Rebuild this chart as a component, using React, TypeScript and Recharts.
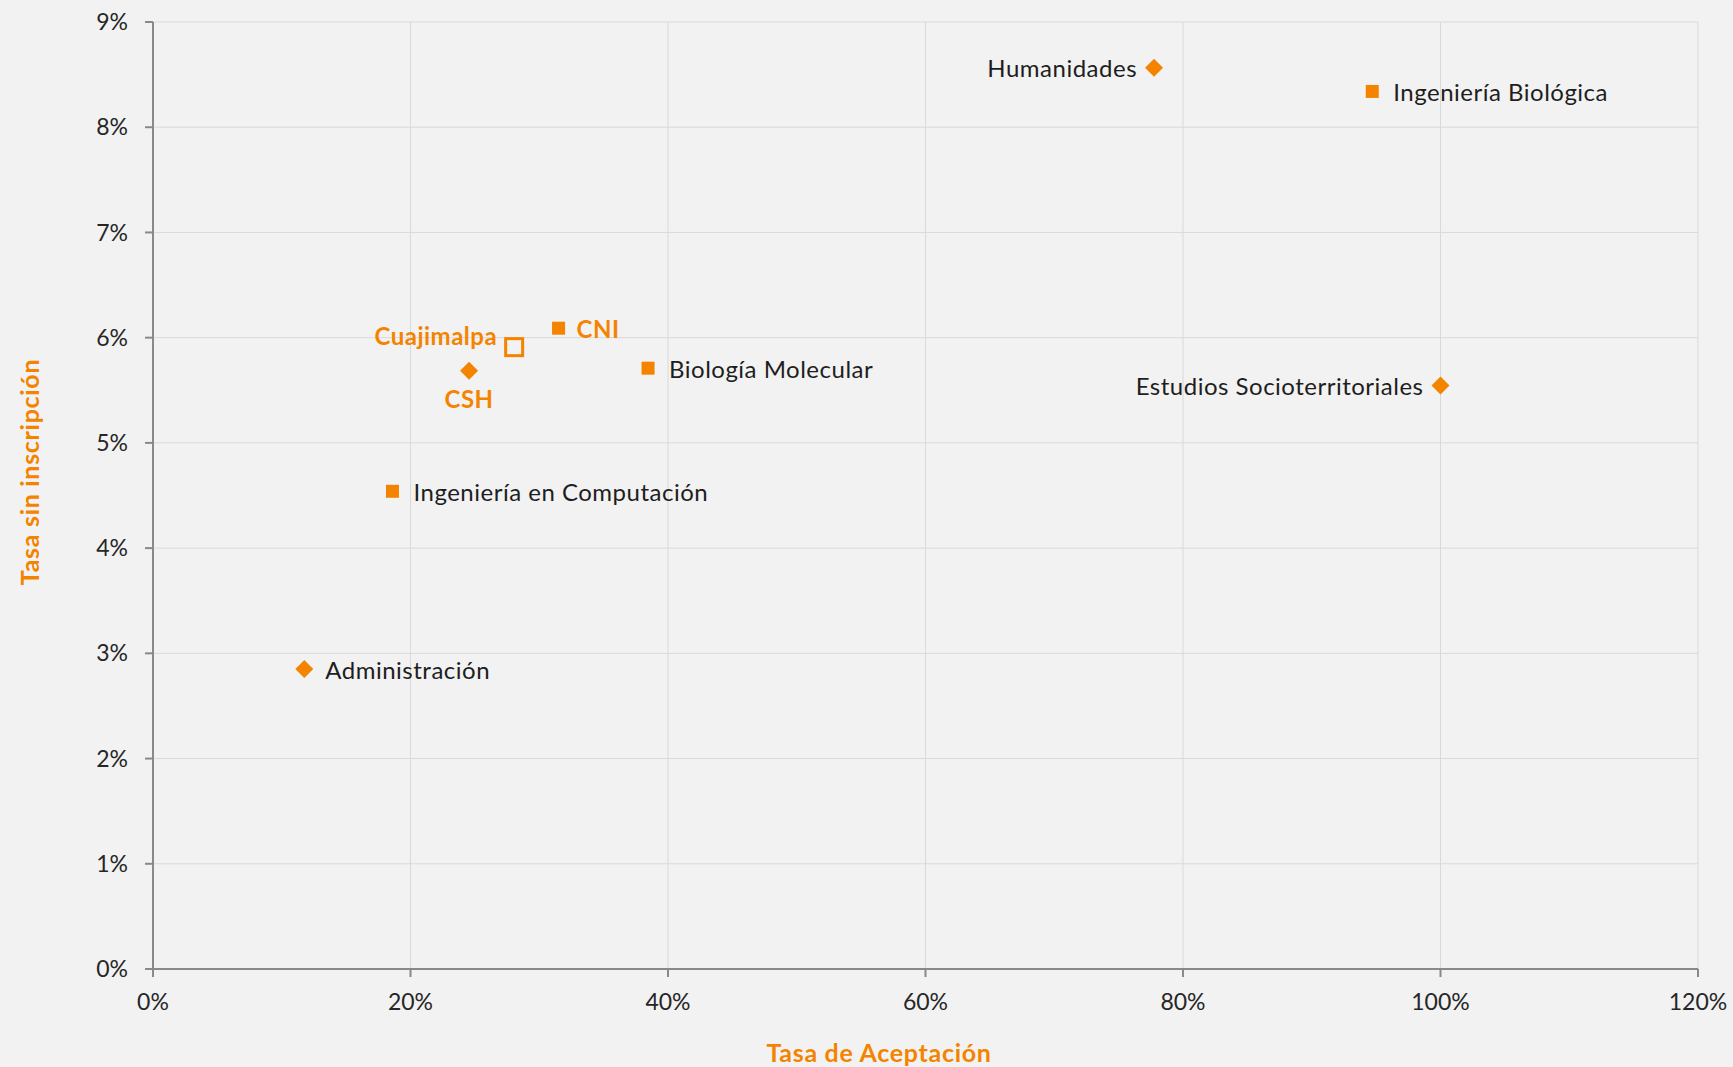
import React from "react";
import { ScatterChart, Scatter, XAxis, YAxis, CartesianGrid, Label } from "recharts";

if (typeof document !== "undefined") {
  document.body.style.margin = "0";
}

// División CSH (diamantes)
const cshNames = ["Humanidades", "Estudios Socioterritoriales", "Administración", "CSH"];
const cshAceptacion = [77.75, 100.0, 11.75, 24.55];
const cshSinInscripcion = [8.565, 5.545, 2.85, 5.685];

// División CNI (cuadros)
const cniNames = ["Ingeniería Biológica", "Biología Molecular", "Ingeniería en Computación", "CNI"];
const cniAceptacion = [94.7, 38.45, 18.6, 31.5];
const cniSinInscripcion = [8.34, 5.71, 4.54, 6.09];

// Unidad (cuadro hueco)
const unidadNames = ["Cuajimalpa"];
const unidadAceptacion = [28.05];
const unidadSinInscripcion = [5.91];

const xTicks = [0, 20, 40, 60, 80, 100, 120];
const yTicks = [0, 1, 2, 3, 4, 5, 6, 7, 8, 9];

const ORANGE = "#F48400";
const TEXT = "#1e1e1e";
const FONT = "Lato, 'Open Sans', sans-serif";

type Side = "left" | "right" | "below" | "upleft";
const labelSide: Record<string, Side> = {
  Humanidades: "left",
  "Estudios Socioterritoriales": "left",
  "Administración": "right",
  CSH: "below",
  "Ingeniería Biológica": "right",
  "Biología Molecular": "right",
  "Ingeniería en Computación": "right",
  CNI: "right",
  Cuajimalpa: "upleft",
};
const boldLabels = new Set(["CSH", "CNI", "Cuajimalpa"]);

const cshData = cshNames.map((n, i) => ({ name: n, x: cshAceptacion[i], y: cshSinInscripcion[i] }));
const cniData = cniNames.map((n, i) => ({ name: n, x: cniAceptacion[i], y: cniSinInscripcion[i] }));
const unidadData = unidadNames.map((n, i) => ({ name: n, x: unidadAceptacion[i], y: unidadSinInscripcion[i] }));

function renderText(name: string, cx: number, cy: number) {
  const side = labelSide[name] || "right";
  const bold = boldLabels.has(name);
  let x = cx + 21;
  let y = cy;
  let anchor: "start" | "end" | "middle" = "start";
  if (side === "left") {
    x = cx - 17;
    anchor = "end";
  } else if (side === "below") {
    x = cx;
    y = cy + 28;
    anchor = "middle";
  } else if (side === "upleft") {
    x = cx - 17;
    y = cy - 12;
    anchor = "end";
  } else if (name === "CNI") {
    x = cx + 18;
  }
  return (
    <text
      x={x}
      y={y}
      textAnchor={anchor}
      dominantBaseline="central"
      fontFamily={FONT}
      fontSize={24}
      letterSpacing={0.5}
      fontWeight={bold ? 700 : 400}
      fill={bold ? ORANGE : TEXT}
    >
      {name}
    </text>
  );
}

const DiamondShape = (props: any) => {
  const { cx, cy, payload } = props;
  const r = 9;
  return (
    <g>
      <polygon points={`${cx},${cy - r} ${cx + r},${cy} ${cx},${cy + r} ${cx - r},${cy}`} fill={ORANGE} />
      {renderText(payload.name, cx, cy)}
    </g>
  );
};

const SquareShape = (props: any) => {
  const { cx, cy, payload } = props;
  const s = 13;
  return (
    <g>
      <rect x={cx - s / 2} y={cy - s / 2} width={s} height={s} fill={ORANGE} />
      {renderText(payload.name, cx, cy)}
    </g>
  );
};

const HollowShape = (props: any) => {
  const { cx, cy, payload } = props;
  const s = 17;
  return (
    <g>
      <rect x={cx - s / 2} y={cy - s / 2} width={s} height={s} fill="none" stroke={ORANGE} strokeWidth={3} />
      {renderText(payload.name, cx, cy)}
    </g>
  );
};

const tickStyle = { fontFamily: FONT, fontSize: 23, fill: "#262626" };

export default function App() {
  return (
    <div style={{ width: 1733, height: 1067, background: "#f2f2f2" }}>
      <ScatterChart width={1733} height={1067} margin={{ top: 22, right: 35, bottom: 0, left: 0 }}>
        <CartesianGrid stroke="#d9d9d9" strokeWidth={1} />
        <XAxis
          type="number"
          dataKey="x"
          domain={[0, 120]}
          ticks={xTicks}
          interval={0}
          height={98}
          tickFormatter={(v: number) => `${v}%`}
          tick={tickStyle}
          axisLine={{ stroke: "#898989", strokeWidth: 2 }}
          tickLine={{ stroke: "#898989", strokeWidth: 2 }}
          tickSize={8}
          tickMargin={17}
        >
          <Label
            content={() => (
              <text
                x={879}
                y={1052}
                textAnchor="middle"
                dominantBaseline="central"
                fontFamily={FONT}
                fontSize={25}
                letterSpacing={0.7}
                fontWeight={700}
                fill={ORANGE}
              >
                Tasa de Aceptación
              </text>
            )}
          />
        </XAxis>
        <YAxis
          type="number"
          dataKey="y"
          domain={[0, 9]}
          ticks={yTicks}
          interval={0}
          width={153}
          tickFormatter={(v: number) => `${v}%`}
          tick={tickStyle}
          axisLine={{ stroke: "#898989", strokeWidth: 2 }}
          tickLine={{ stroke: "#898989", strokeWidth: 2 }}
          tickSize={8}
          tickMargin={17}
        >
          <Label
            content={() => (
              <text
                x={29}
                y={472}
                transform="rotate(-90, 29, 472)"
                textAnchor="middle"
                dominantBaseline="central"
                fontFamily={FONT}
                fontSize={25}
                letterSpacing={0.7}
                fontWeight={700}
                fill={ORANGE}
              >
                Tasa sin inscripción
              </text>
            )}
          />
        </YAxis>
        <Scatter name="CSH" data={cshData} shape={DiamondShape} isAnimationActive={false} />
        <Scatter name="CNI" data={cniData} shape={SquareShape} isAnimationActive={false} />
        <Scatter name="Cuajimalpa" data={unidadData} shape={HollowShape} isAnimationActive={false} />
      </ScatterChart>
    </div>
  );
}
